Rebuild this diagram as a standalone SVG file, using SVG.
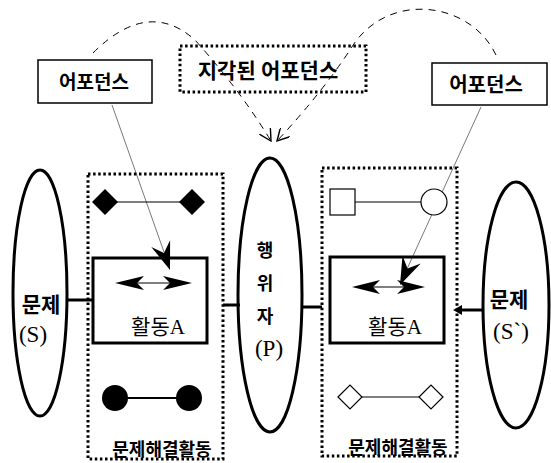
<svg xmlns="http://www.w3.org/2000/svg" width="551" height="463" viewBox="0 0 551 463">
<defs>
<marker id="open" viewBox="0 0 12 12" refX="11" refY="6" markerWidth="13" markerHeight="13" markerUnits="userSpaceOnUse" orient="auto">
<path d="M0 0 L11 6 L0 12" fill="none" stroke="#000" stroke-width="1.3"/>
</marker>
</defs>
<style>
.bg{fill:#fff}
.box{fill:none;stroke:#000;stroke-width:3}
.thinbox{fill:#fff;stroke:#000;stroke-width:1.5}
.dot{fill:none;stroke:#000;stroke-width:3;stroke-dasharray:2.5 2.6}
.ell{fill:none;stroke:#000;stroke-width:3}
.lab{font-family:"Liberation Serif","Noto Sans CJK KR",serif;font-weight:bold;fill:#000;text-anchor:middle}
.ser{font-family:"Liberation Serif","Noto Sans CJK KR",serif;fill:#000;text-anchor:middle}
.dash{fill:none;stroke:#000;stroke-width:1;stroke-dasharray:7 6}
.ptr{fill:none;stroke:#555;stroke-width:0.8}
.conn{fill:none;stroke:#000;stroke-width:3}
.fill{fill:#000;stroke:none}
.thin{stroke:#000;stroke-width:1.2}
.outl{fill:#fff;stroke:#000;stroke-width:1.2}
</style>
<rect class="bg" x="0" y="0" width="551" height="463"/>

<g id="connectors">
  <path class="dash" d="M93 53 Q148 -2 195 40 Q240 90 271 141" marker-end="url(#open)"/>
  <path class="dash" d="M496 55 C470 0 385 -10 350 50 Q320 95 277 141" marker-end="url(#open)"/>
  <line class="ptr" x1="112" y1="105" x2="164" y2="252"/>
  <polygon class="fill" points="170,270 151.3,246.9 164,253 170.1,240.3"/>
  <line class="ptr" x1="481" y1="107" x2="407" y2="269"/>
  <polygon class="fill" points="400,285 402.5,255.4 407.5,268.6 420.7,263.6"/>
  <line class="conn" x1="67" y1="300" x2="93" y2="300"/>
  <line class="conn" x1="223" y1="305" x2="240" y2="305"/>
  <line class="conn" x1="301" y1="307" x2="322" y2="307"/>
  <line class="conn" x1="483" y1="310" x2="460" y2="310"/>
  <polygon class="fill" points="453,310 462,305 462,315"/>
</g>

<g id="affordance-left">
  <rect class="thinbox" x="38" y="60" width="114" height="43"/>
  <text class="lab" x="94" y="89" font-size="19">어포던스</text>
</g>

<g id="perceived-affordance">
  <rect class="dot" x="180" y="46" width="186" height="46"/>
  <text class="lab" x="268" y="78" font-size="21">지각된 어포던스</text>
</g>

<g id="affordance-right">
  <rect class="thinbox" x="432" y="63" width="115" height="42"/>
  <text class="lab" x="486" y="92" font-size="20">어포던스</text>
</g>

<g id="problem-s">
  <ellipse class="ell" cx="40" cy="293" rx="27" ry="123"/>
  <text class="lab" x="41" y="312" font-size="21">문제</text>
  <text class="ser" x="33" y="342" font-size="23">(S)</text>
</g>

<g id="activity-left">
  <rect class="dot" x="88" y="174" width="135" height="285"/>
  <line x1="105" y1="202" x2="192" y2="202" class="thin"/>
  <polygon class="fill" points="92,202 105,189 118,202 105,215"/>
  <polygon class="fill" points="179,202 192,189 205,202 192,215"/>
  <rect class="box" x="93" y="258" width="114" height="85"/>
  <line x1="136" y1="283" x2="171" y2="283" class="thin"/>
  <polygon class="fill" points="115,283 144,276 137,283 144,290"/>
  <polygon class="fill" points="192,283 163,276 170,283 163,290"/>
  <text class="ser" x="158" y="334" font-size="21">활동A</text>
  <line x1="115" y1="398" x2="189" y2="398" stroke="#000" stroke-width="2.2"/>
  <circle class="fill" cx="115" cy="398" r="13"/>
  <circle class="fill" cx="189" cy="398" r="13"/>
  <text class="lab" x="162" y="456" font-size="18">문제해결활동</text>
</g>

<g id="actor-p">
  <ellipse class="ell" cx="270" cy="295" rx="32" ry="137"/>
  <text class="lab" x="265" y="257" font-size="18">행</text>
  <text class="lab" x="265" y="290" font-size="18">위</text>
  <text class="lab" x="265" y="323" font-size="18">자</text>
  <text class="ser" x="269" y="356" font-size="23">(P)</text>
</g>

<g id="activity-right">
  <rect class="dot" x="322" y="168" width="135" height="288"/>
  <line x1="355" y1="202" x2="421" y2="202" class="thin"/>
  <rect class="outl" x="330" y="189" width="25" height="26"/>
  <circle class="outl" cx="434" cy="202" r="13"/>
  <rect class="box" x="330" y="257" width="114" height="86"/>
  <line x1="371" y1="287" x2="406" y2="287" class="thin"/>
  <polygon class="fill" points="352,287 380,280 373,287 380,294"/>
  <polygon class="fill" points="425,287 397,280 404,287 397,294"/>
  <text class="ser" x="395" y="334" font-size="21">활동A</text>
  <line x1="350" y1="397" x2="431" y2="397" class="thin"/>
  <polygon class="outl" points="338,397 350,385 362,397 350,409"/>
  <polygon class="outl" points="419,397 431,385 443,397 431,409"/>
  <text class="lab" x="398" y="454" font-size="18">문제해결활동</text>
</g>

<g id="problem-s2">
  <ellipse class="ell" cx="516" cy="305" rx="33" ry="123"/>
  <text class="lab" x="509" y="307" font-size="21">문제</text>
  <text class="ser" x="511" y="339" font-size="23">(S`)</text>
</g>
</svg>
